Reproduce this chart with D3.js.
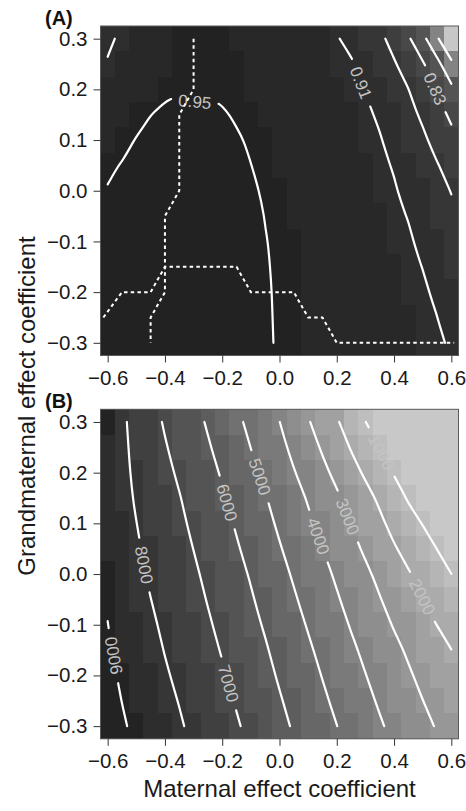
<!DOCTYPE html>
<html>
<head>
<meta charset="utf-8">
<script src="https://cdn.jsdelivr.net/npm/d3@7"></script>
<style>
  body { margin: 0; background: #fff; }
  svg text { font-family: "Liberation Sans", Arial, Helvetica, sans-serif; }
</style>
</head>
<body>
<div id="chart"></div>
<script>
// grid of the simulation (cell centres)
var xGrid = [-0.6, -0.55, -0.5, -0.45, -0.4, -0.35, -0.3, -0.25, -0.2, -0.15, -0.1, -0.05, 0,
             0.05, 0.1, 0.15, 0.2, 0.25, 0.3, 0.35, 0.4, 0.45, 0.5, 0.55, 0.6];
var yGrid = [0.3, 0.25, 0.2, 0.15, 0.1, 0.05, 0, -0.05, -0.1, -0.15, -0.2, -0.25, -0.3];

var xTicks = [-0.6, -0.4, -0.2, 0, 0.2, 0.4, 0.6];
var yTicks = [-0.3, -0.2, -0.1, 0, 0.1, 0.2, 0.3];

// (A) values, one row per grandmaternal coefficient (top row = 0.3)
var valuesA = [
  [0.905,0.915,0.924,0.932,0.938,0.943,0.945,0.945,0.944,0.942,0.939,0.935,0.931,0.927,0.922,0.917,0.912,0.902,0.889,0.877,0.859,0.835,0.801,0.755,0.709],
  [0.912,0.921,0.929,0.936,0.941,0.946,0.948,0.948,0.947,0.945,0.942,0.938,0.934,0.930,0.926,0.921,0.916,0.913,0.900,0.887,0.873,0.855,0.834,0.802,0.758],
  [0.920,0.928,0.935,0.941,0.947,0.9485,0.949,0.948,0.946,0.944,0.942,0.939,0.936,0.932,0.928,0.924,0.920,0.915,0.909,0.896,0.883,0.8705,0.849,0.826,0.799],
  [0.928,0.936,0.943,0.9498,0.953,0.955,0.956,0.955,0.952,0.948,0.945,0.941,0.937,0.933,0.929,0.925,0.921,0.917,0.915,0.906,0.892,0.879,0.865,0.845,0.823],
  [0.937,0.944,0.951,0.954,0.956,0.957,0.957,0.956,0.955,0.952,0.948,0.944,0.940,0.936,0.932,0.928,0.924,0.920,0.916,0.912,0.900,0.888,0.876,0.859,0.841],
  [0.947,0.951,0.955,0.957,0.959,0.959,0.959,0.958,0.957,0.955,0.9502,0.946,0.942,0.938,0.934,0.930,0.926,0.922,0.918,0.914,0.9085,0.895,0.884,0.872,0.858],
  [0.951,0.955,0.958,0.960,0.961,0.961,0.961,0.960,0.959,0.957,0.954,0.947,0.943,0.939,0.935,0.931,0.927,0.923,0.919,0.915,0.912,0.9035,0.891,0.880,0.869],
  [0.955,0.958,0.960,0.962,0.963,0.963,0.963,0.962,0.961,0.959,0.956,0.9495,0.9455,0.9415,0.9375,0.9335,0.9295,0.9255,0.9215,0.9175,0.9135,0.9093,0.898,0.887,0.876],
  [0.958,0.960,0.962,0.963,0.964,0.964,0.964,0.963,0.962,0.960,0.957,0.9507,0.9468,0.9429,0.939,0.935,0.9311,0.9272,0.9233,0.9193,0.9154,0.9125,0.9055,0.8927,0.882],
  [0.960,0.962,0.963,0.964,0.965,0.965,0.965,0.964,0.963,0.961,0.958,0.9513,0.9475,0.9437,0.940,0.9362,0.9324,0.9287,0.9249,0.9211,0.9173,0.9135,0.9097,0.899,0.888],
  [0.961,0.963,0.964,0.965,0.966,0.966,0.966,0.965,0.964,0.962,0.959,0.9517,0.948,0.9444,0.9408,0.9372,0.9335,0.9299,0.9263,0.9227,0.9191,0.9154,0.9125,0.907,0.894],
  [0.962,0.964,0.965,0.966,0.967,0.967,0.967,0.966,0.965,0.963,0.960,0.9518,0.9483,0.9449,0.9414,0.938,0.9345,0.931,0.9276,0.9241,0.9206,0.9172,0.9137,0.9102,0.899],
  [0.963,0.965,0.966,0.967,0.968,0.968,0.968,0.967,0.966,0.964,0.961,0.9519,0.9486,0.9453,0.9419,0.9386,0.9353,0.932,0.9286,0.9253,0.922,0.9186,0.9153,0.9125,0.908]
];
var levelsA = [0.75, 0.79, 0.83, 0.87, 0.91, 0.95];

// dashed boundaries drawn in (A)
var boundaryA1 = [[-0.3, 0.3], [-0.3, 0.2], [-0.35, 0.15], [-0.35, 0], [-0.4, -0.05], [-0.4, -0.2], [-0.45, -0.25], [-0.45, -0.3]];
var boundaryA2 = [[-0.615, -0.25], [-0.55, -0.2], [-0.45, -0.2], [-0.4, -0.15], [-0.15, -0.15], [-0.1, -0.2],
                  [0.05, -0.2], [0.1, -0.25], [0.15, -0.25], [0.2, -0.3], [0.61, -0.3]];

// (B) values
var valuesB = [
  [8900,8160,7690,7300,6920,6590,6260,5915,5550,5180,4790,4400,4010,3530,3070,2580,2090,1550,1030,0,0,0,0,0,0],
  [8800,8190,7770,7410,7060,6740,6420,6080,5730,5370,4990,4620,4230,3790,3360,2900,2440,1940,1450,980,0,0,0,0,0],
  [8690,8220,7840,7520,7190,6890,6570,6250,5920,5570,5200,4830,4450,4050,3640,3210,2780,2320,1870,1400,950,0,0,0,0],
  [8590,8250,7920,7630,7330,7040,6730,6410,6100,5760,5400,5050,4680,4310,3930,3530,3130,2710,2290,1850,1380,920,0,0,0],
  [8680,8340,8010,7720,7430,7150,6860,6550,6250,5920,5580,5230,4870,4510,4140,3760,3380,2980,2580,2170,1730,1320,970,0,0],
  [8780,8440,8100,7800,7530,7270,6990,6700,6390,6080,5750,5410,5060,4710,4360,4005,3630,3250,2870,2480,2080,1720,1370,990,0],
  [8870,8530,8190,7890,7630,7380,7120,6840,6540,6240,5930,5590,5250,4910,4570,4230,3880,3520,3160,2800,2430,2070,1710,1360,1010],
  [8940,8620,8300,8010,7740,7490,7240,6960,6680,6380,6080,5750,5420,5090,4750,4420,4080,3730,3380,3040,2690,2340,1995,1670,1340],
  [9010,8720,8420,8130,7860,7610,7350,7090,6810,6520,6220,5920,5590,5260,4940,4610,4280,3940,3610,3280,2940,2620,2300,1990,1680],
  [9080,8810,8530,8250,7970,7720,7470,7210,6950,6660,6370,6080,5760,5440,5120,4800,4480,4150,3830,3520,3200,2890,2590,2300,2010],
  [9170,8900,8630,8360,8090,7840,7590,7330,7080,6800,6510,6220,5910,5600,5290,4970,4660,4330,4020,3710,3400,3100,2800,2510,2230],
  [9250,8990,8740,8480,8220,7970,7710,7460,7200,6940,6660,6370,6070,5760,5450,5140,4830,4520,4210,3900,3600,3300,3010,2730,2460],
  [9340,9090,8840,8590,8340,8090,7830,7580,7330,7080,6800,6510,6220,5920,5620,5310,5010,4700,4400,4090,3800,3510,3220,2940,2680]
];
var levelsB = [1000, 2000, 3000, 4000, 5000, 6000, 7000, 8000, 9000];

// where the contour labels sit (data coords), flip = text reads the other way
var labelSpotsA = [{level: 0.95, x: -0.301, y: 0.174}, {level: 0.91, x: 0.285, y: 0.213}, {level: 0.83, x: 0.539, y: 0.2}];
var labelSpotsB = [
  {level: 9000, x: -0.570, y: -0.160, flip: true}, {level: 8000, x: -0.47, y: 0.018},
  {level: 7000, x: -0.179, y: -0.216}, {level: 6000, x: -0.184, y: 0.141},
  {level: 5000, x: -0.068, y: 0.192}, {level: 4000, x: 0.137, y: 0.075},
  {level: 3000, x: 0.236, y: 0.113}, {level: 2000, x: 0.4985, y: -0.045},
  {level: 1000, x: 0.364, y: 0.243}
];

var W = 466, H = 811;
var left = 100.5, plotW = 358, plotH = 329.5;

var svg = d3.select("#chart").append("svg")
  .attr("width", W).attr("height", H);

var x = d3.scaleLinear().domain([-0.625, 0.625]).range([0, plotW]);
var y = d3.scaleLinear().domain([-0.325, 0.325]).range([plotH, 0]);

var greysA = ["#c7c7c7", "#838383", "#656565", "#545454", "#484848", "#3e3e3e", "#363636", "#2e2e2e", "#282828", "#222222"];
var colorA = d3.scaleQuantize().domain([0.709, 0.968]).range(greysA);
var colorB = d3.scaleQuantize().domain([0, 9340]).range(d3.quantize(d3.interpolateRgb("#c8c8c8", "#232323"), 18));

// marching squares on the grid, returns polylines in data coords
function isolines(values, level) {
  var segs = [], pts = {};
  function edge(t, i, j) {
    var k = t + i + "_" + j;
    if (!pts[k]) {
      var z1, z2, f;
      if (t === "h") {
        z1 = values[j][i]; z2 = values[j][i + 1]; f = (level - z1) / (z2 - z1);
        pts[k] = [xGrid[i] + f * (xGrid[i + 1] - xGrid[i]), yGrid[j]];
      } else {
        z1 = values[j][i]; z2 = values[j + 1][i]; f = (level - z1) / (z2 - z1);
        pts[k] = [xGrid[i], yGrid[j] + f * (yGrid[j + 1] - yGrid[j])];
      }
    }
    return k;
  }
  for (var j = 0; j < yGrid.length - 1; j++) {
    for (var i = 0; i < xGrid.length - 1; i++) {
      var a = values[j][i] >= level, b = values[j][i + 1] >= level,
          c = values[j + 1][i + 1] >= level, d = values[j + 1][i] >= level;
      var E = [];
      if (a !== b) E.push(edge("h", i, j));
      if (b !== c) E.push(edge("v", i + 1, j));
      if (d !== c) E.push(edge("h", i, j + 1));
      if (a !== d) E.push(edge("v", i, j));
      if (E.length === 2) segs.push([E[0], E[1]]);
      else if (E.length === 4) {
        var centre = (values[j][i] + values[j][i + 1] + values[j + 1][i + 1] + values[j + 1][i]) / 4 >= level;
        if (centre === a) { segs.push([E[0], E[1]]); segs.push([E[2], E[3]]); }
        else { segs.push([E[0], E[3]]); segs.push([E[1], E[2]]); }
      }
    }
  }
  // join segments into lines
  var adj = {}, used = segs.map(function() { return false; }), lines = [];
  segs.forEach(function(s, n) {
    s.forEach(function(k) { (adj[k] = adj[k] || []).push(n); });
  });
  function walk(k) {
    var keys = [k];
    while (true) {
      var next = adj[k].find(function(n) { return !used[n]; });
      if (next === undefined) break;
      used[next] = true;
      k = segs[next][0] === k ? segs[next][1] : segs[next][0];
      keys.push(k);
    }
    return keys.map(function(q) { return pts[q]; });
  }
  Object.keys(adj).forEach(function(k) {
    if (adj[k].length === 1 && !used[adj[k][0]]) lines.push(walk(k));
  });
  segs.forEach(function(s, n) { if (!used[n]) lines.push(walk(s[0])); });
  return lines;
}

function cumul(pts) {
  var c = [0];
  for (var k = 1; k < pts.length; k++) c.push(c[k - 1] + Math.hypot(pts[k][0] - pts[k - 1][0], pts[k][1] - pts[k - 1][1]));
  return c;
}
function pointAt(pts, c, s) {
  for (var k = 1; k < pts.length; k++) {
    if (c[k] >= s) {
      var t = (s - c[k - 1]) / ((c[k] - c[k - 1]) || 1);
      return [pts[k - 1][0] + t * (pts[k][0] - pts[k - 1][0]), pts[k - 1][1] + t * (pts[k][1] - pts[k - 1][1])];
    }
  }
  return pts[pts.length - 1];
}
function slicePts(pts, c, s0, s1) {
  var out = [pointAt(pts, c, s0)];
  for (var k = 0; k < pts.length; k++) if (c[k] > s0 && c[k] < s1) out.push(pts[k]);
  out.push(pointAt(pts, c, s1));
  return out;
}
function project(pts, p) {
  var best = Infinity, bestS = 0, s = 0;
  for (var k = 0; k < pts.length - 1; k++) {
    var a = pts[k], b = pts[k + 1], dx = b[0] - a[0], dy = b[1] - a[1], L2 = dx * dx + dy * dy, L = Math.sqrt(L2);
    var t = L2 ? Math.max(0, Math.min(1, ((p[0] - a[0]) * dx + (p[1] - a[1]) * dy) / L2)) : 0;
    var d = Math.pow(a[0] + t * dx - p[0], 2) + Math.pow(a[1] + t * dy - p[1], 2);
    if (d < best) { best = d; bestS = s + t * L; }
    s += L;
  }
  return {d: best, s: bestS};
}

function drawPanel(top, values, levels, color, labelSpots, fmt, dashed, tag) {
  var g = svg.append("g").attr("transform", "translate(" + left + "," + top + ")");

  // cells
  values.forEach(function(row, j) {
    g.selectAll(null).data(row).enter().append("rect")
      .attr("x", function(d, i) { return x(xGrid[i] - 0.025); })
      .attr("y", y(yGrid[j] + 0.025))
      .attr("width", function(d, i) { return x(xGrid[i] + 0.025) - x(xGrid[i] - 0.025); })
      .attr("height", y(yGrid[j] - 0.025) - y(yGrid[j] + 0.025))
      .attr("fill", function(d) { return color(d); })
      .attr("shape-rendering", "crispEdges");
  });

  var line = d3.line();
  var smooth = d3.line().curve(d3.curveBasis);

  // contour lines with label gaps
  levels.forEach(function(level) {
    var lines = isolines(values, level).map(function(l) {
      return l.map(function(p) { return [x(p[0]), y(p[1])]; });
    });
    var gaps = lines.map(function() { return []; });
    labelSpots.filter(function(s) { return s.level === level; }).forEach(function(spot) {
      var p = [x(spot.x), y(spot.y)], best = null;
      lines.forEach(function(l, n) {
        var pr = project(l, p);
        if (!best || pr.d < best.d) best = {d: pr.d, s: pr.s, n: n};
      });
      if (!best) return;
      var l = lines[best.n], c = cumul(l);
      var txt = g.append("text")
        .attr("font-size", 17)
        .attr("fill", "#c4c4c4")
        .attr("text-anchor", "middle")
        .attr("dy", "0.36em")
        .text(fmt(level));
      var half = (txt.node().getComputedTextLength() + 18) / 2;
      var s0 = Math.max(0, best.s - half), s1 = Math.min(c[c.length - 1], best.s + half);
      var p0 = pointAt(l, c, s0), p1 = pointAt(l, c, s1);
      var ang = Math.atan2(p1[1] - p0[1], p1[0] - p0[0]) * 180 / Math.PI;
      if (ang > 90) ang -= 180;
      if (ang <= -90) ang += 180;
      if (spot.flip) ang += 180;
      txt.attr("transform", "translate(" + (p0[0] + p1[0]) / 2 + "," + (p0[1] + p1[1]) / 2 + ") rotate(" + ang + ")");
      gaps[best.n].push([s0, s1]);
    });
    lines.forEach(function(l, n) {
      var c = cumul(l), total = c[c.length - 1], start = 0;
      var pieces = [];
      gaps[n].sort(function(a, b) { return a[0] - b[0]; }).forEach(function(gp) {
        if (gp[0] > start) pieces.push(slicePts(l, c, start, gp[0]));
        start = gp[1];
      });
      if (start < total) pieces.push(slicePts(l, c, start, total));
      pieces.forEach(function(pc) {
        g.append("path")
          .attr("d", smooth(pc))
          .attr("fill", "none")
          .attr("stroke", "#fff")
          .attr("stroke-width", 2.2)
          .attr("stroke-linecap", "round");
      });
    });
  });

  // dashed boundaries
  (dashed || []).forEach(function(b) {
    g.append("path")
      .attr("d", line(b.map(function(p) { return [x(p[0]), y(p[1])]; })))
      .attr("fill", "none")
      .attr("stroke", "#fff")
      .attr("stroke-width", 2)
      .attr("stroke-dasharray", "3.5,3.2");
  });

  // frame
  g.append("rect")
    .attr("width", plotW).attr("height", plotH)
    .attr("fill", "none").attr("stroke", "#5a5a5a").attr("stroke-width", 1);

  // axes
  var fmtTick = d3.format(".1f");
  var ax = g.append("g")
    .attr("transform", "translate(0," + plotH + ")")
    .call(d3.axisBottom(x).tickValues(xTicks).tickSize(7).tickPadding(8).tickFormat(fmtTick));
  var ay = g.append("g")
    .call(d3.axisLeft(y).tickValues(yTicks).tickSize(7).tickPadding(6).tickFormat(fmtTick));
  [ax, ay].forEach(function(a) {
    a.select(".domain").remove();
    a.selectAll("line").attr("stroke", "#333");
    a.selectAll("text").attr("font-size", 20.5).attr("fill", "#1a1a1a")
      .style("font-family", "'Liberation Sans', Arial, Helvetica, sans-serif");
  });

  // panel tag
  svg.append("text")
    .attr("x", 45).attr("y", top - 1)
    .attr("font-size", 20).attr("font-weight", "bold").attr("fill", "#111")
    .text(tag);
}

drawPanel(26, valuesA, levelsA, colorA, labelSpotsA, function(v) { return String(v); }, [boundaryA1, boundaryA2], "(A)");
drawPanel(409.3, valuesB, levelsB, colorB, labelSpotsB, function(v) { return String(v); }, null, "(B)");

// axis titles
svg.append("text")
  .attr("x", left + plotW / 2).attr("y", 797)
  .attr("text-anchor", "middle")
  .attr("font-size", 24).attr("fill", "#1a1a1a")
  .text("Maternal effect coefficient");

svg.append("text")
  .attr("transform", "translate(35,406) rotate(-90)")
  .attr("text-anchor", "middle")
  .attr("font-size", 24).attr("fill", "#1a1a1a")
  .text("Grandmaternal effect coefficient");
</script>
</body>
</html>
